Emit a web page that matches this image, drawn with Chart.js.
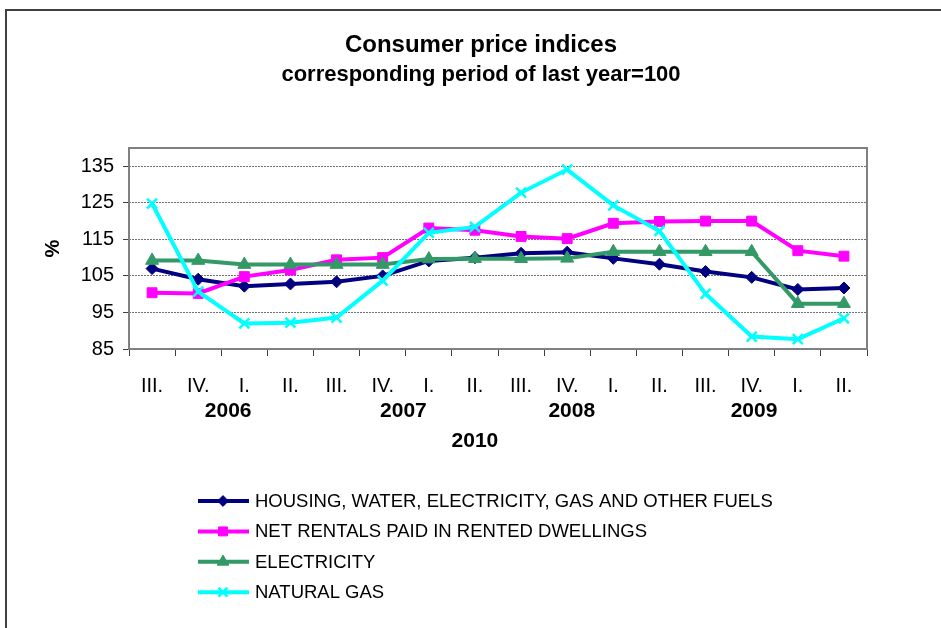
<!DOCTYPE html>
<html>
<head>
<meta charset="utf-8">
<title>Consumer price indices</title>
<script src="https://cdn.jsdelivr.net/npm/chart.js@4.4.1/dist/chart.umd.min.js"></script>
<style>
  html, body { margin: 0; padding: 0; background: #fff; }
  #wrap { width: 941px; height: 628px; }
</style>
</head>
<body>
<div id="wrap"><canvas id="cpiChart" width="941" height="628"></canvas></div>
<script>
// --- data ---
const quarters = ['III.', 'IV.', 'I.', 'II.', 'III.', 'IV.', 'I.', 'II.',
                  'III.', 'IV.', 'I.', 'II.', 'III.', 'IV.', 'I.', 'II.'];
const yearLabels = ['2006', '2007', '2008', '2009'];
const lastYearLabel = '2010';
const yTicks = [85, 95, 105, 115, 125, 135];

const housing     = [107.0, 104.1, 102.2, 102.8, 103.4, 105.0, 109.1, 110.0, 111.2, 111.5, 109.8, 108.2, 106.2, 104.6, 101.3, 101.7];
const rentals     = [100.4, 100.2, 104.8, 106.6, 109.4, 110.0, 118.1, 117.5, 115.8, 115.2, 119.4, 119.9, 120.0, 120.0, 111.9, 110.4];
const electricity = [109.2, 109.2, 108.1, 108.1, 108.1, 108.1, 109.6, 109.7, 109.7, 109.8, 111.6, 111.6, 111.6, 111.6, 97.4, 97.4];
const naturalGas  = [124.8, 100.7, 92.0, 92.2, 93.6, 103.7, 116.8, 118.4, 127.8, 134.1, 124.3, 117.3, 100.1, 88.4, 87.7, 93.4];

const FONT = "'Liberation Sans', Arial, Helvetica, sans-serif";

// where the year captions sit, in category units
const yearSlots = [1.65, 5.45, 9.1, 13.05];
const lastYearSlot = 7.0;

function serie(label, data, color, style, radius, bw) {
  return {
    label, data,
    borderColor: color,
    backgroundColor: color,
    pointBackgroundColor: color,
    pointBorderColor: color,
    borderWidth: 4,
    pointStyle: style,
    pointRadius: radius,
    pointBorderWidth: bw,
    tension: 0,
    fill: false,
  };
}

const datasets = [
  serie('HOUSING, WATER, ELECTRICITY, GAS AND OTHER FUELS', housing, '#000080', 'rectRot', 6, 1),
  serie('NET RENTALS PAID IN RENTED DWELLINGS', rentals, '#FF00FF', 'rect', 7, 1),
  serie('ELECTRICITY', electricity, '#339966', 'triangle', 7.5, 1),
  serie('NATURAL GAS', naturalGas, '#00FFFF', 'crossRot', 7, 2.5),
];
// Excel puts later series on top
datasets.forEach((d, i) => { d.order = datasets.length - i; });

// fond blanc + cadre extérieur
const framePlugin = {
  id: 'frame',
  beforeDraw(chart) {
    const ctx = chart.ctx;
    ctx.save();
    ctx.fillStyle = '#fff';
    ctx.fillRect(0, 0, chart.width, chart.height);
    ctx.strokeStyle = '#404040';
    ctx.lineWidth = 2;
    ctx.beginPath();
    ctx.moveTo(6, chart.height);
    ctx.lineTo(6, 10);
    ctx.lineTo(chart.width, 10);
    ctx.stroke();
    ctx.restore();
  }
};

// caja gris del área de trazado
const plotBoxPlugin = {
  id: 'plotBox',
  beforeDatasetsDraw(chart) {
    const { ctx, chartArea: a } = chart;
    ctx.save();
    ctx.strokeStyle = '#808080';
    ctx.lineWidth = 2;
    ctx.strokeRect(a.left, a.top, a.right - a.left, a.bottom - a.top);
    ctx.restore();
  }
};

const titlesPlugin = {
  id: 'titles',
  afterDraw(chart) {
    const ctx = chart.ctx;
    ctx.save();
    ctx.fillStyle = '#000';
    ctx.textAlign = 'center';
    ctx.textBaseline = 'middle';
    ctx.font = 'bold 24px ' + FONT;
    ctx.fillText('Consumer price indices', 481, 45);
    ctx.font = 'bold 22px ' + FONT;
    ctx.fillText('corresponding period of last year=100', 481, 75);

    // années sous les trimestres
    const x = chart.scales.x;
    ctx.font = 'bold 21px ' + FONT;
    yearLabels.forEach((t, i) => ctx.fillText(t, x.getPixelForValue(yearSlots[i]), x.top + 62));
    ctx.fillText(lastYearLabel, x.getPixelForValue(lastYearSlot), x.top + 92);
    ctx.restore();
  }
};

const legendPlugin = {
  id: 'sideLegend',
  afterDraw(chart) {
    const ctx = chart.ctx;
    ctx.save();
    chart.data.datasets.forEach((ds, i) => {
      const y = 501 + i * 30.4;
      ctx.strokeStyle = ds.borderColor;
      ctx.lineWidth = 4;
      ctx.beginPath();
      ctx.moveTo(198, y);
      ctx.lineTo(249, y);
      ctx.stroke();
      ctx.fillStyle = ds.pointBackgroundColor;
      ctx.strokeStyle = ds.pointBorderColor;
      ctx.lineWidth = ds.pointBorderWidth;
      Chart.helpers.drawPoint(ctx, {
        pointStyle: ds.pointStyle,
        radius: ds.pointRadius * 0.9,
        borderWidth: ds.pointBorderWidth,
        rotation: 0
      }, 223, y);
      ctx.fillStyle = '#000';
      ctx.font = '18.5px ' + FONT;
      ctx.textAlign = 'left';
      ctx.textBaseline = 'middle';
      ctx.fillText(ds.label, 255, y + 1);
    });
    ctx.restore();
  }
};

new Chart(document.getElementById('cpiChart'), {
  type: 'line',
  data: { labels: quarters, datasets },
  plugins: [framePlugin, plotBoxPlugin, titlesPlugin, legendPlugin],
  options: {
    responsive: false,
    animation: false,
    layout: { padding: { top: 148, left: 0, right: 74, bottom: 219 } },
    plugins: {
      legend: { display: false },
      title: { display: false },
      tooltip: { enabled: false },
    },
    scales: {
      x: {
        offset: true,
        grid: { offset: true, drawOnChartArea: false, tickLength: 7, tickColor: '#404040', tickWidth: 1 },
        border: { display: false },
        ticks: { font: { family: FONT, size: 20 }, color: '#000', padding: 18, maxRotation: 0, autoSkip: false },
        afterFit: s => { s.height = 60; },
      },
      y: {
        min: 85,
        max: 140,
        afterBuildTicks: s => { s.ticks = yTicks.map(v => ({ value: v })); },
        ticks: { font: { family: FONT, size: 20 }, color: '#000', padding: 9 },
        grid: { color: '#707070', lineWidth: 1, tickLength: 6, tickColor: '#404040' },
        border: { display: false, dash: [2, 1] },
        title: { display: true, text: '%', color: '#000', font: { family: FONT, size: 20, weight: 'bold' }, padding: { top: 41, bottom: 0 } },
        afterFit: s => { s.width = 129; },
      }
    }
  }
});
</script>
</body>
</html>
